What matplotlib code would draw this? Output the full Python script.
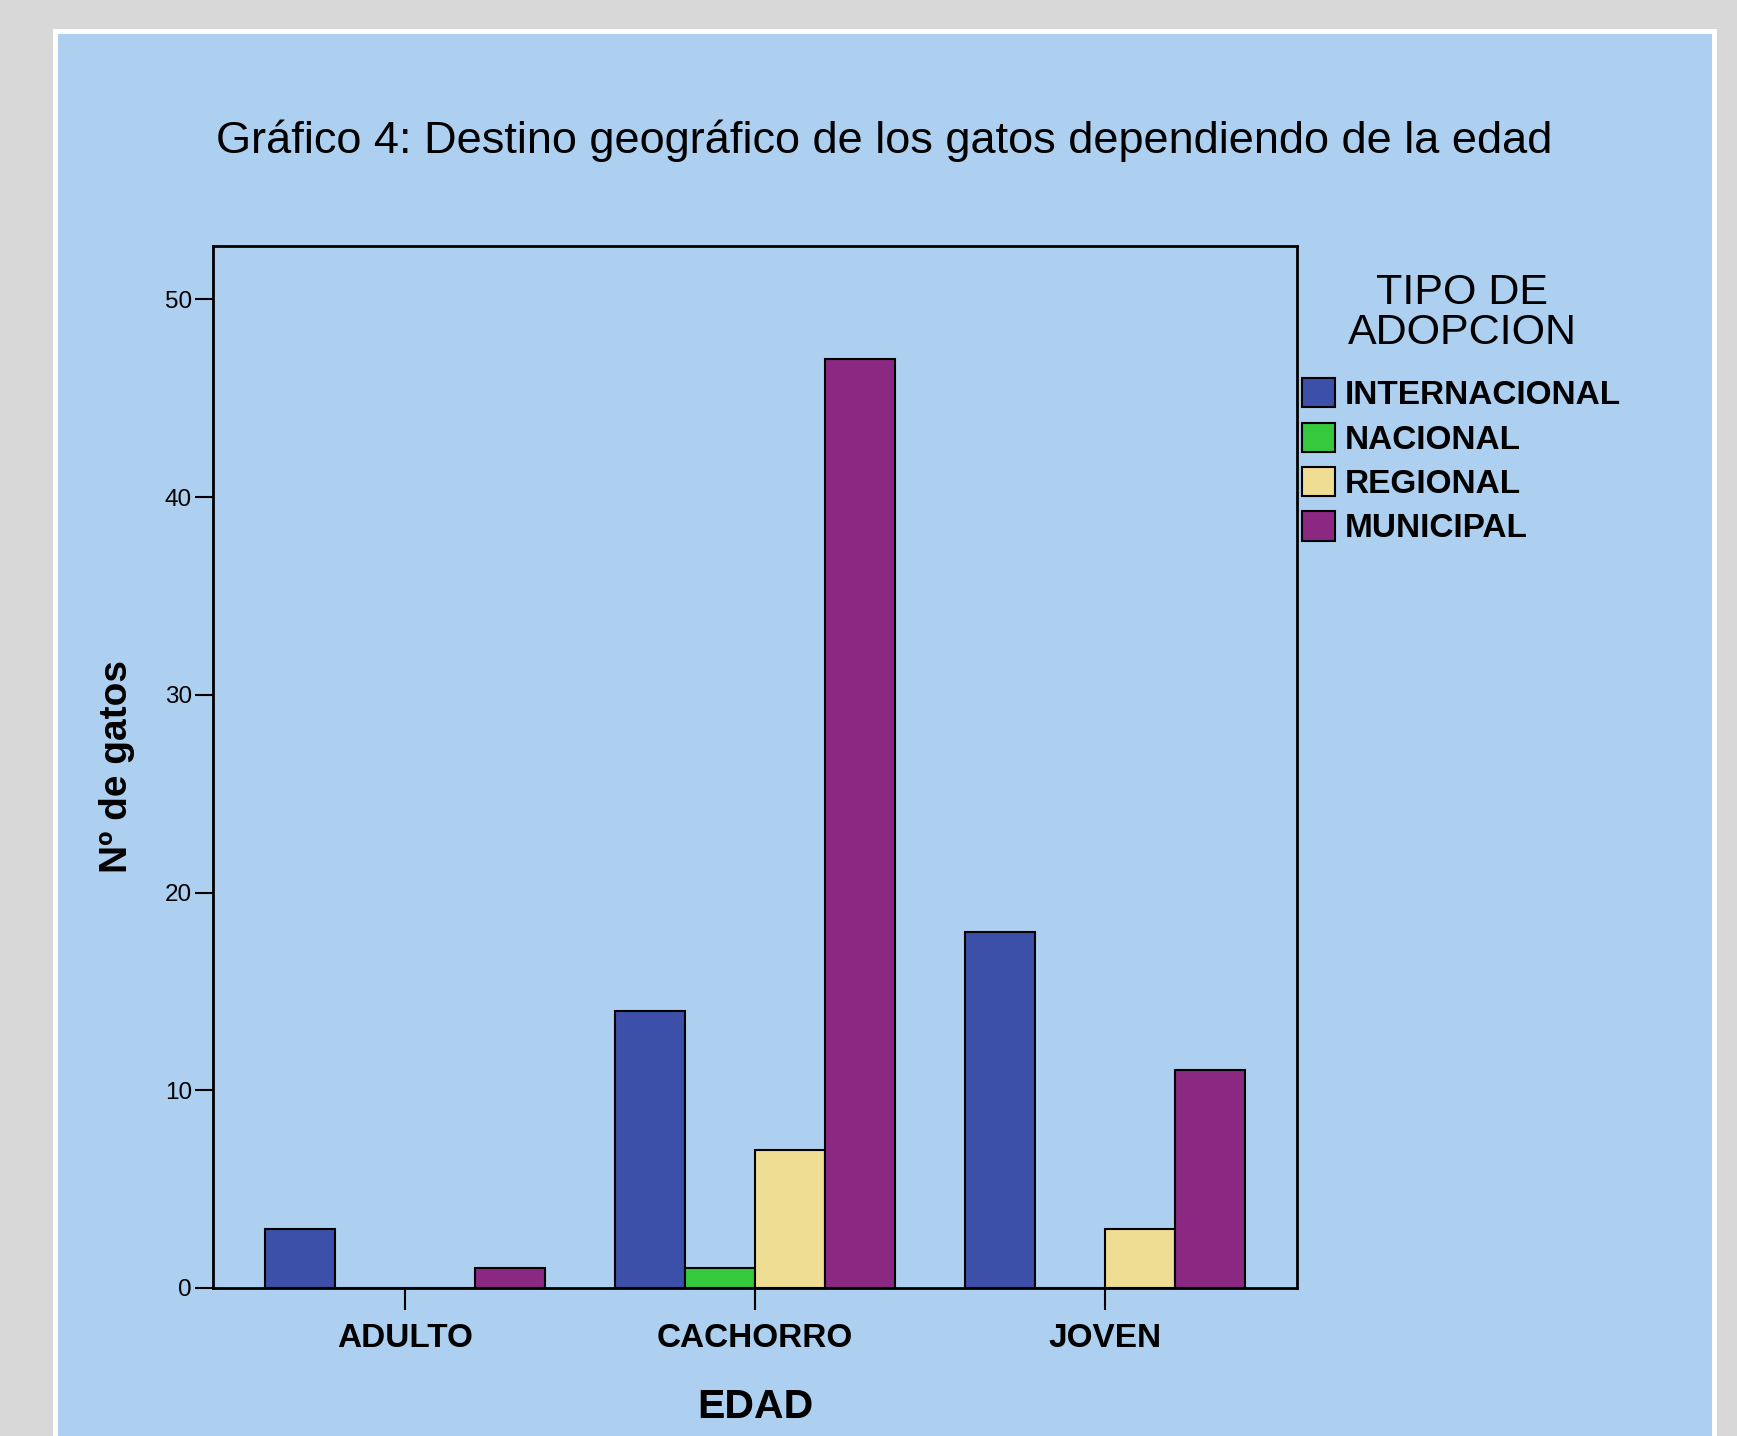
import numpy as np
import matplotlib
matplotlib.use("Agg")
import matplotlib.pyplot as plt
from matplotlib.patches import Rectangle

# datos
edades = ["ADULTO", "CACHORRO", "JOVEN"]
tipos = ["INTERNACIONAL", "NACIONAL", "REGIONAL", "MUNICIPAL"]
internacional = [3, 14, 18]
nacional = [0, 1, 0]
regional = [0, 7, 3]
municipal = [1, 47, 11]
colores = ["#3c50a9", "#35c93e", "#eedd92", "#8b2882"]

BG = "#adcff0"

plt.rcParams['font.family'] = ['Liberation Sans', 'DejaVu Sans']

fig = plt.figure(figsize=(17.37, 14.36), dpi=100, facecolor="#d8d8d8")
# marco blanco + panel azul (detras de los ejes)
fig.patches.append(Rectangle((53/1737, 0), (1717-53)/1737, 1-29/1436,
                             transform=fig.transFigure, facecolor="white", edgecolor="none", zorder=-2))
fig.patches.append(Rectangle((58/1737, 0), (1712-58)/1737, 1-34/1436,
                             transform=fig.transFigure, facecolor=BG, edgecolor="none", zorder=-1))

ax = fig.add_axes([0.1226, 0.1031, 0.6241, 0.7256])
ax.set_facecolor(BG)

x = np.arange(len(edades))
w = 0.2
series = [internacional, nacional, regional, municipal]
for i, (vals, lab) in enumerate(zip(series, tipos)):
    ax.bar(x + (i - 1.5) * w, vals, w, color=colores[i], edgecolor="black",
           linewidth=1.5, label=lab, zorder=3)

ax.set_xlim(-0.55, 2.55)
ax.set_ylim(0, 52.7)
ax.set_yticks([0, 10, 20, 30, 40, 50])
ax.set_xticks(x)
ax.set_xticklabels(edades, fontweight="bold", fontsize=24)
for t in ax.get_yticklabels():
    t.set_fontsize(17.5)
ax.tick_params(axis="y", length=13, width=1.5, pad=2)
ax.tick_params(axis="x", length=16, width=1.5, pad=9)
for s in ax.spines.values():
    s.set_linewidth(2)

ax.set_xlabel("EDAD", fontsize=29.5, fontweight="bold")
ax.xaxis.set_label_coords(0.5, -0.096)
ax.set_ylabel("Nº de gatos", fontsize=28, fontweight="bold")
ax.yaxis.set_label_coords(-0.0715, 0.5)

fig.text(0.509, 0.9018, "Gráfico 4: Destino geográfico de los gatos dependiendo de la edad",
         ha="center", va="center", fontsize=32.5)

# titulo de la leyenda
fig.text(1462/1737, 1 - 313/1436, "TIPO DE\nADOPCION", ha="center", va="center",
         fontsize=31, linespacing=0.98, multialignment="center")

ax.legend(loc="upper left", bbox_to_anchor=(1.005, 0.873),
          frameon=False, borderpad=0, borderaxespad=0, handlelength=0.97,
          handleheight=0.97, handletextpad=0.3, labelspacing=0.34,
          prop={"weight": "bold", "size": 24})

fig.savefig("out.png", dpi=100, facecolor=fig.get_facecolor())
